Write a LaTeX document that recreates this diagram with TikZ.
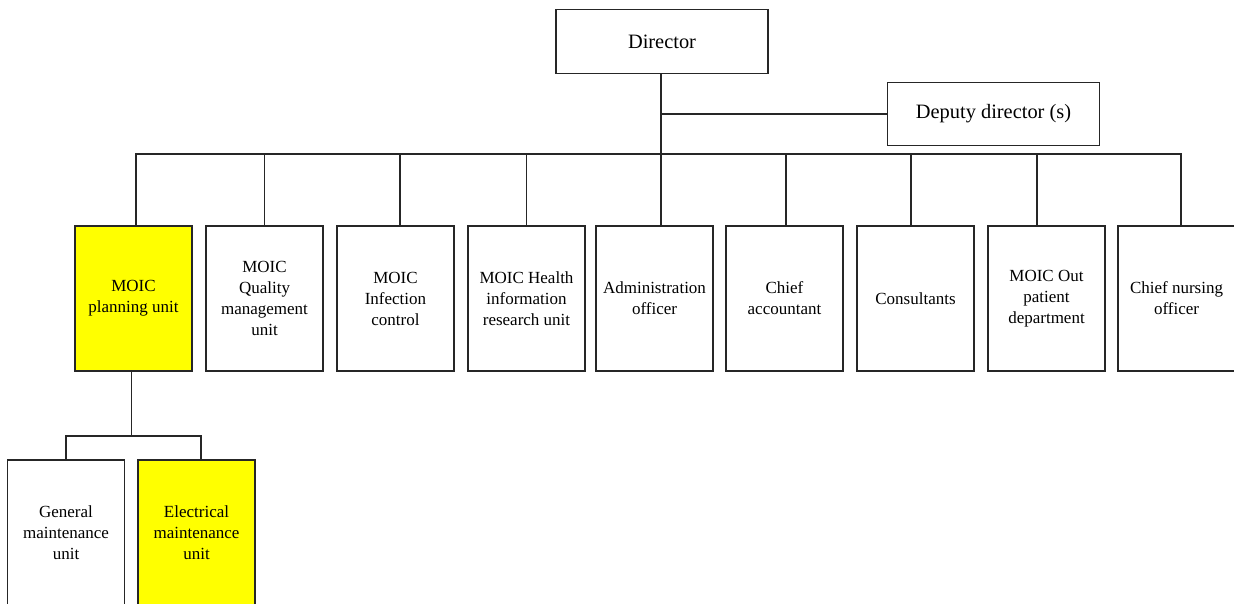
\documentclass[tikz,border=0pt]{standalone}
\usepackage{fontspec}
\setmainfont{Liberation Serif}
\usetikzlibrary{calc}
\definecolor{hilite}{RGB}{255,255,0}
\tikzset{
%Define standard line for the tree
tree/.style={line width=0.9pt, draw=black!85},
%Define style for the unit boxes
unit/.style={draw=black!85, line width=0.9pt, fill=white, minimum width=87.75pt, minimum height=108.75pt,
  inner sep=2pt, align=center, font=\fontsize{12.75pt}{15.75pt}\selectfont},
marked/.style={unit, fill=hilite},
%Define style for the head boxes
head/.style={draw=black!85, line width=0.9pt, fill=white, minimum width=159pt, minimum height=47.5pt,
  align=center, font=\fontsize{15.3pt}{18pt}\selectfont},
}

\begin{document}
\begin{tikzpicture}[x=0.75pt, y=-0.75pt]
    \useasboundingbox (0,0) rectangle (1234,603);
    \clip (0,0) rectangle (1234,603);
    % Heads
    \node[head] (dir) at (662,41.5) {Director};
    \node[head] (dep) at (993.5,114) {Deputy director (s)};
    \coordinate (bus) at (661,154);
    \coordinate (sub) at (131.7,436);
    % Units
    \node[marked] (plan) at (133.5,298.5) {MOIC\\planning unit};
    \node[unit] (qual) at (264.5,298.5) {MOIC\\Quality\\management\\unit};
    \node[unit] (infc) at (395.5,298.5) {MOIC\\Infection\\control};
    \node[unit] (hinf) at (526.5,298.5) {MOIC Health\\information\\research unit};
    \node[unit] (adm) at (654.5,298.5) {Administration\\officer};
    \node[unit] (acc) at (784.5,298.5) {Chief\\accountant};
    \node[unit] (cons) at (915.5,298.5) {Consultants};
    \node[unit] (opd) at (1046.5,298.5) {MOIC Out\\patient\\department};
    \node[unit] (nurse) at (1176.5,298.5) {Chief nursing\\officer};
    % Maintenance
    \node[unit] (gen) at (66,532.5) {General\\maintenance\\unit};
    \node[marked] (elec) at (196.5,532.5) {Electrical\\maintenance\\unit};
    % Lines
    \draw[tree] (dir.south -| bus) -- (bus);
    \draw[tree] (dep.west) -- (dep.west -| bus);
    \draw[tree] ([xshift=1.9pt]plan.north) |- (bus) -| ([xshift=3.4pt]nurse.north);
    \draw[tree] (qual.north) -- (qual.north |- bus);
    \draw[tree] ([xshift=3.4pt]infc.north) -- ([xshift=3.4pt]infc.north |- bus);
    \draw[tree] (hinf.north) -- (hinf.north |- bus);
    \draw[tree] (adm.north -| bus) -- (bus);
    \draw[tree] ([xshift=1.1pt]acc.north) -- ([xshift=1.1pt]acc.north |- bus);
    \draw[tree] ([xshift=-3.4pt]cons.north) -- ([xshift=-3.4pt]cons.north |- bus);
    \draw[tree] ([xshift=-7.1pt]opd.north) -- ([xshift=-7.1pt]opd.north |- bus);
    \draw[tree] (plan.south -| sub) -- (sub);
    \draw[tree] (gen.north) |- (sub) -| ([xshift=3.4pt]elec.north);
  \end{tikzpicture}
\end{document}
